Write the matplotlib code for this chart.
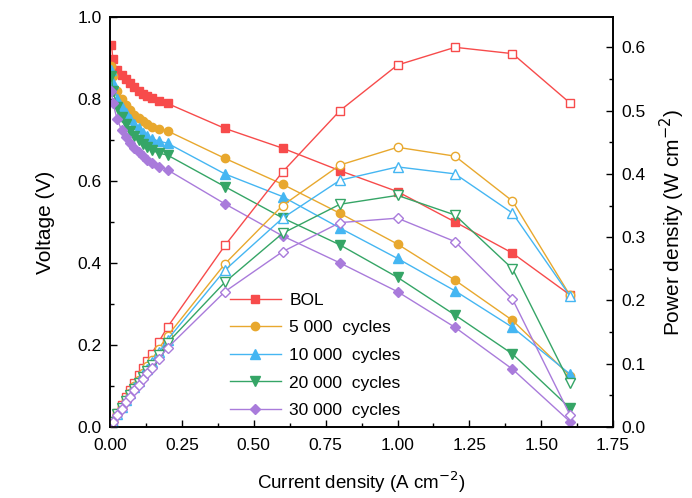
import numpy as np
import matplotlib
matplotlib.use('Agg')
import matplotlib.pyplot as plt
from matplotlib.ticker import MultipleLocator, FormatStrFormatter

plt.rcParams['font.family'] = ['Liberation Sans', 'DejaVu Sans']

# current density (A cm-2)
current = [0.005, 0.01, 0.025, 0.04, 0.055, 0.07, 0.085, 0.1, 0.115, 0.13, 0.145, 0.17, 0.2,
           0.4, 0.6, 0.8, 1.0, 1.2, 1.4, 1.6]

labels = ['BOL', '5 000  cycles', '10 000  cycles', '20 000  cycles', '30 000  cycles']
colors = ['#f74b4b', '#e8a82e', '#45b6f2', '#35a566', '#a97bdb']
markers = ['s', 'o', '^', 'v', 'D']

# voltage (V)
v_bol = [0.932, 0.897, 0.871, 0.859, 0.848, 0.838, 0.829, 0.82, 0.812, 0.807, 0.802, 0.795, 0.789,
         0.728, 0.68, 0.625, 0.574, 0.50, 0.424, 0.322]
v_5k = [0.88, 0.855, 0.82, 0.80, 0.785, 0.772, 0.762, 0.753, 0.745, 0.738, 0.732, 0.727, 0.722,
        0.655, 0.592, 0.521, 0.446, 0.358, 0.26, 0.125]
v_10k = [0.87, 0.84, 0.80, 0.78, 0.765, 0.75, 0.738, 0.728, 0.718, 0.71, 0.703, 0.697, 0.692,
         0.617, 0.562, 0.485, 0.411, 0.332, 0.243, 0.129]
v_20k = [0.855, 0.82, 0.78, 0.755, 0.738, 0.722, 0.71, 0.70, 0.69, 0.682, 0.675, 0.668, 0.663,
         0.586, 0.51, 0.444, 0.365, 0.273, 0.178, 0.046]
v_30k = [0.82, 0.79, 0.75, 0.725, 0.707, 0.692, 0.68, 0.67, 0.66, 0.651, 0.643, 0.635, 0.627,
         0.544, 0.466, 0.40, 0.33, 0.243, 0.141, 0.013]

# power density (W cm-2)
p_bol = [0.005, 0.009, 0.022, 0.034, 0.047, 0.059, 0.070, 0.082, 0.093, 0.105, 0.116, 0.135, 0.158,
         0.287, 0.403, 0.50, 0.572, 0.600, 0.590, 0.512]
p_5k = [0.004, 0.009, 0.021, 0.032, 0.043, 0.054, 0.065, 0.075, 0.086, 0.096, 0.106, 0.124, 0.144,
        0.258, 0.35, 0.414, 0.442, 0.428, 0.357, 0.208]
p_10k = [0.004, 0.008, 0.020, 0.031, 0.042, 0.053, 0.063, 0.073, 0.083, 0.092, 0.102, 0.118, 0.138,
         0.248, 0.33, 0.39, 0.411, 0.40, 0.338, 0.207]
p_20k = [0.004, 0.008, 0.020, 0.030, 0.041, 0.051, 0.060, 0.070, 0.079, 0.089, 0.098, 0.114, 0.133,
         0.229, 0.306, 0.352, 0.366, 0.335, 0.25, 0.069]
p_30k = [0.004, 0.008, 0.019, 0.029, 0.039, 0.048, 0.058, 0.067, 0.076, 0.085, 0.093, 0.108, 0.125,
         0.214, 0.277, 0.323, 0.33, 0.293, 0.202, 0.019]

voltages = [v_bol, v_5k, v_10k, v_20k, v_30k]
powers = [p_bol, p_5k, p_10k, p_20k, p_30k]
msizes = [5.5, 6, 6.5, 6.5, 5.5]

fig = plt.figure(figsize=(6.92, 4.98), dpi=100)
ax = fig.add_axes([0.159, 0.1426, 0.727, 0.8234])
ax2 = ax.twinx()

for v, p, c, m, lab, ms in zip(voltages, powers, colors, markers, labels, msizes):
    ax.plot(current, v, '-', color=c, marker=m, markersize=ms, linewidth=1, label=lab)
    ax2.plot(current, p, '-', color=c, marker=m, markersize=ms, linewidth=1,
             markerfacecolor='white', markeredgewidth=1)

ax.set_xlim(0, 1.75)
ax.set_ylim(0, 1.0)
ax2.set_ylim(0, 0.648)

ax.xaxis.set_major_locator(MultipleLocator(0.25))
ax.xaxis.set_minor_locator(MultipleLocator(0.125))
ax.yaxis.set_major_locator(MultipleLocator(0.2))
ax.yaxis.set_minor_locator(MultipleLocator(0.1))
ax2.yaxis.set_major_locator(MultipleLocator(0.1))
ax2.yaxis.set_minor_locator(MultipleLocator(0.05))
ax.xaxis.set_major_formatter(FormatStrFormatter('%.2f'))
ax.yaxis.set_major_formatter(FormatStrFormatter('%.1f'))
ax2.yaxis.set_major_formatter(FormatStrFormatter('%.1f'))

ax.tick_params(which='both', direction='in', top=False, labelsize=12.5)
ax.tick_params(axis='x', pad=8)
ax.tick_params(axis='y', pad=6)
ax.tick_params(which='major', length=5, width=1)
ax.tick_params(which='minor', length=3, width=1)
ax2.tick_params(which='both', direction='in', labelsize=12.5, pad=6)
ax2.tick_params(which='major', length=5, width=1)
ax2.tick_params(which='minor', length=3, width=1)

for a in (ax, ax2):
    for s in a.spines.values():
        s.set_linewidth(1.2)

ax.set_xlabel('Current density (A cm$^{-2}$)', fontsize=13.5, labelpad=12)
ax.set_ylabel('Voltage (V)', fontsize=15, labelpad=16)
ax2.set_ylabel('Power density (W cm$^{-2}$)', fontsize=15, labelpad=9)

ax.legend(loc='upper left', bbox_to_anchor=(0.225, 0.345), frameon=False, fontsize=12.5,
          handlelength=2.9, handletextpad=0.5, labelspacing=0.72, borderaxespad=0)

fig.savefig('out.png', dpi=100)
